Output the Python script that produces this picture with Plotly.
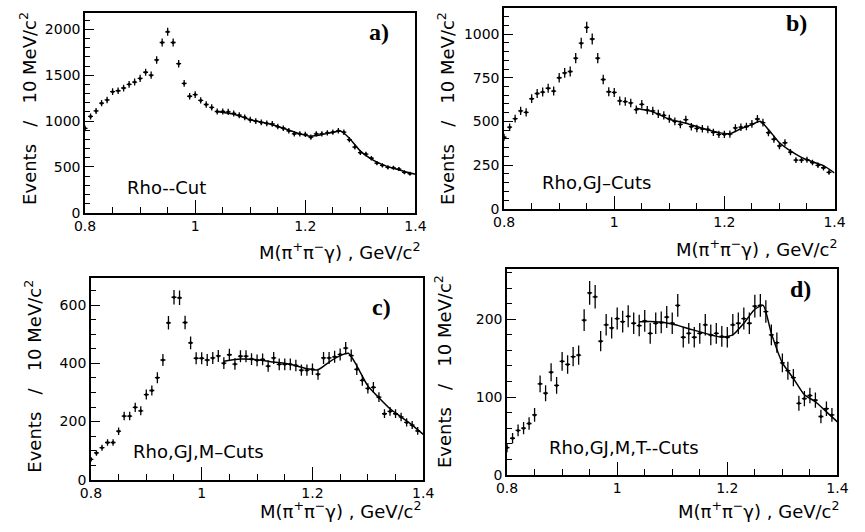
import numpy as np
import plotly.graph_objects as go

# ---------------- data ----------------
mass = [0.80, 0.81, 0.82, 0.83, 0.84, 0.85, 0.86, 0.87, 0.88, 0.89,
        0.90, 0.91, 0.92, 0.93, 0.94, 0.95, 0.96, 0.97, 0.98, 0.99,
        1.00, 1.01, 1.02, 1.03, 1.04, 1.05, 1.06, 1.07, 1.08, 1.09,
        1.10, 1.11, 1.12, 1.13, 1.14, 1.15, 1.16, 1.17, 1.18, 1.19,
        1.20, 1.21, 1.22, 1.23, 1.24, 1.25, 1.26, 1.27, 1.28, 1.29,
        1.30, 1.31, 1.32, 1.33, 1.34, 1.35, 1.36, 1.37, 1.38, 1.39]

counts_a = [920, 1050, 1110, 1195, 1230, 1320, 1330, 1360, 1400, 1425,
            1465, 1532, 1500, 1666, 1856, 1973, 1856, 1625, 1410, 1270,
            1288, 1225, 1180, 1148, 1104, 1104, 1100, 1083, 1064, 1040,
            1014, 1000, 985, 975, 968, 940, 922, 893, 860, 860,
            854, 824, 860, 860, 871, 879, 893, 878, 797, 716,
            656, 640, 595, 542, 517, 495, 490, 476, 441, 426]

counts_b = [410, 467, 516, 560, 552, 630, 660, 668, 690, 674,
            750, 778, 786, 862, 948, 1038, 972, 862, 740, 670,
            666, 618, 614, 606, 568, 598, 565, 560, 543, 535,
            515, 500, 483, 510, 470, 460, 458, 454, 438, 426,
            426, 428, 463, 467, 471, 486, 514, 493, 436, 398,
            360, 378, 325, 279, 279, 281, 265, 249, 235, 209]

counts_c = [70, 92, 110, 128, 128, 167, 219, 219, 249, 237,
            293, 307, 351, 412, 540, 628, 626, 541, 471, 418,
            418, 412, 419, 426, 401, 430, 398, 425, 425, 415,
            411, 414, 391, 419, 397, 397, 397, 393, 377, 377,
            380, 363, 419, 419, 423, 431, 453, 427, 380, 342,
            314, 318, 284, 227, 235, 227, 216, 197, 188, 168]

counts_d = [35, 47, 57, 60, 66, 77, 117, 105, 132, 115,
            146, 142, 152, 154, 199, 234, 229, 172, 193, 189,
            201, 197, 204, 195, 192, 198, 182, 195, 196, 203,
            195, 218, 177, 182, 177, 182, 193, 180, 182, 178,
            177, 193, 195, 201, 195, 217, 218, 210, 180, 170,
            144, 134, 125, 92, 98, 102, 96, 75, 85, 77]

fit_x = [1.04, 1.07, 1.10, 1.13, 1.16, 1.19, 1.21, 1.23, 1.25, 1.265,
         1.28, 1.30, 1.32, 1.34, 1.36, 1.38, 1.40]
fit_a = [1105, 1075, 1015, 975, 922, 860, 835, 852, 878, 890,
         812, 672, 585, 525, 485, 450, 420]
fit_b = [575, 555, 513, 490, 461, 436, 430, 458, 482, 501,
         454, 378, 331, 294, 269, 247, 205]
fit_c = [408, 415, 413, 405, 397, 382, 378, 405, 427, 435,
         392, 323, 282, 244, 216, 188, 156]
fit_d = [197, 197, 194, 188, 182, 177, 180, 195, 213, 218,
         182, 144, 124, 103, 94, 81, 68]

panel_tags = ["a)", "b)", "c)", "d)"]
cut_labels = ["Rho--Cut", "Rho,GJ\u2013Cuts", "Rho,GJ,M\u2013Cuts", "Rho,GJ,M,T--Cuts"]
y_ranges = [2180, 1150, 695, 265]
y_major = [[0, 500, 1000, 1500, 2000], [0, 250, 500, 750, 1000], [0, 200, 400, 600], [0, 100, 200]]
y_minor = [100, 50, 50, 20]
x_ticks = [0.8, 1.0, 1.2, 1.4]
x_ticklabels = ["0.8", "1", "1.2", "1.4"]

# ---------------- layout (pixel boxes) ----------------
W, H = 865, 532
boxes = [(76, 415, 13, 216), (506, 845, 8, 212), (82, 423, 282, 487), (509, 848, 273, 482)]
tag_pos = [(378, 32), (806, 23), (380, 312), (810, 293)]
cut_pos = [(117, 190), (543, 185), (123, 458), (550, 454)]
xtitle_pos = [(423, 255), (851, 252), (424, 518), (853, 518)]
ytitle_pos = [(18, 110), (447, 110), (23, 382), (444, 377)]

series = [counts_a, counts_b, counts_c, counts_d]
fits = [fit_a, fit_b, fit_c, fit_d]

fig = go.Figure()
font_sans = "DejaVu Sans"
layout = dict(width=W, height=H, margin=dict(l=0, r=0, t=0, b=0),
              paper_bgcolor="white", plot_bgcolor="white", showlegend=False,
              font=dict(family=font_sans, color="black"))
annotations = []
for i in range(4):
    sfx = "" if i == 0 else str(i + 1)
    x0, x1, y0, y1 = boxes[i]
    counts = np.array(series[i], dtype=float)
    err = np.sqrt(counts)
    fig.add_trace(go.Scatter(
        x=mass, y=counts, mode="markers", xaxis="x" + sfx, yaxis="y" + sfx,
        marker=dict(size=3, color="black"),
        error_y=dict(type="data", array=err, color="black", thickness=1.3, width=0),
        error_x=dict(type="constant", value=0.0045, color="black", thickness=1.3, width=0),
    ))
    fig.add_trace(go.Scatter(
        x=fit_x, y=fits[i], mode="lines", xaxis="x" + sfx, yaxis="y" + sfx,
        line=dict(color="black", width=1.5, shape="spline", smoothing=0.6),
    ))
    layout["xaxis" + sfx] = dict(
        domain=[x0 / W, x1 / W], anchor="y" + sfx, range=[0.8, 1.4],
        showgrid=False, zeroline=False, showline=True, linecolor="black", linewidth=1.6,
        mirror=True, ticks="inside", ticklen=13, tickwidth=1.2, tickcolor="black",
        tickvals=x_ticks, ticktext=x_ticklabels, tickfont=dict(size=14, family=font_sans),
        minor=dict(dtick=0.05, tick0=0.8, ticks="inside", ticklen=6, tickwidth=1.1, tickcolor="black"),
    )
    layout["yaxis" + sfx] = dict(
        domain=[1 - y1 / H, 1 - y0 / H], anchor="x" + sfx, range=[0, y_ranges[i]],
        showgrid=False, zeroline=False, showline=True, linecolor="black", linewidth=1.6,
        mirror=True, ticks="inside", ticklen=9, tickwidth=1.2, tickcolor="black",
        tickvals=y_major[i], tickfont=dict(size=14, family=font_sans),
        minor=dict(dtick=y_minor[i], tick0=0, ticks="inside", ticklen=5, tickwidth=1.1, tickcolor="black"),
    )
    annotations.append(dict(
        text="<b>" + panel_tags[i] + "</b>", xref="paper", yref="paper",
        x=tag_pos[i][0] / W, y=1 - tag_pos[i][1] / H, showarrow=False,
        font=dict(family="Liberation Serif", size=24, color="black"),
        xanchor="center", yanchor="middle"))
    annotations.append(dict(
        text=cut_labels[i], xref="paper", yref="paper",
        x=cut_pos[i][0] / W, y=1 - cut_pos[i][1] / H, showarrow=False,
        font=dict(family=font_sans, size=18, color="black"),
        xanchor="left", yanchor="middle"))
    annotations.append(dict(
        text="M(\u03c0<sup>+</sup>\u03c0<sup>\u2212</sup>\u03b3)\u00a0, GeV/c<sup>2</sup>",
        xref="paper", yref="paper",
        x=xtitle_pos[i][0] / W, y=1 - xtitle_pos[i][1] / H, showarrow=False,
        font=dict(family=font_sans, size=18, color="black"),
        xanchor="right", yanchor="middle"))
    annotations.append(dict(
        text="Events \u00a0\u00a0/\u00a0\u00a0 10 MeV/c<sup>2</sup>", xref="paper", yref="paper",
        x=ytitle_pos[i][0] / W, y=1 - ytitle_pos[i][1] / H, showarrow=False, textangle=-90,
        font=dict(family=font_sans, size=18, color="black"),
        xanchor="center", yanchor="middle"))

layout["annotations"] = annotations
fig.update_layout(**layout)
fig.write_html("out.html")
